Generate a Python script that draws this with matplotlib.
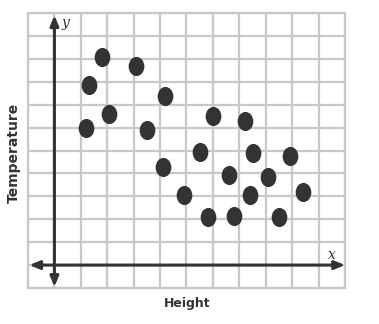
import matplotlib
matplotlib.use("Agg")
import matplotlib.pyplot as plt
from matplotlib.path import Path
from matplotlib.markers import MarkerStyle
from matplotlib.transforms import Affine2D

# scatter points (grid units)
height = [1.8, 1.3, 3.1, 4.2, 1.2, 2.05, 3.5, 6.0, 7.2, 4.1, 5.5, 7.5, 8.9,
          4.9, 6.6, 8.1, 7.4, 9.4, 5.8, 6.8, 8.5]
temperature = [9.1, 7.85, 8.7, 7.4, 6.0, 6.6, 5.9, 6.5, 6.3, 4.3, 4.95, 4.9, 4.75,
               3.05, 3.95, 3.85, 3.05, 3.2, 2.1, 2.15, 2.1]

grid_ticks = list(range(-1, 12))

fig = plt.figure(figsize=(3.79, 3.24), dpi=100)
ax = fig.add_axes([28 / 379, 36 / 324, 317 / 379, 275 / 324])

ax.set_xlim(-1, 11)
ax.set_ylim(-1, 11)
ax.set_xticks(grid_ticks)
ax.set_yticks(grid_ticks)
ax.tick_params(length=0, labelbottom=False, labelleft=False)
ax.grid(True, color="#c8c8c8", linewidth=1.6)
for s in ax.spines.values():
    s.set_color("#c8c8c8")
    s.set_linewidth(1.6)

# axes with arrows on both ends
arrow = dict(arrowstyle="<|-|>,head_length=0.6,head_width=0.25", color="#333333",
             lw=2.2, shrinkA=0, shrinkB=0)
ax.annotate("", xy=(-0.95, 0), xytext=(11, 0), arrowprops=arrow)
ax.annotate("", xy=(0, -0.95), xytext=(0, 10.9), arrowprops=arrow)

ax.text(0.25, 10.55, "y", fontsize=10, family="DejaVu Serif", style="italic",
        color="#333333", va="center")
ax.text(10.5, 0.45, "x", fontsize=10, family="DejaVu Serif", style="italic",
        color="#333333", va="center", ha="center")

# slightly tall ellipse markers
oval = Path.unit_circle().transformed(Affine2D().scale(0.82, 1.0))
ax.scatter(height, temperature, marker=MarkerStyle(oval), s=190, color="#333333",
           zorder=3, linewidths=0)

fig.text(14 / 379, 1 - 153 / 324, "Temperature", rotation=90, fontsize=10,
         fontweight="bold", color="#333333", ha="center", va="center")
fig.text(187 / 379, 1 - 304 / 324, "Height", fontsize=9, fontweight="bold",
         color="#333333", ha="center", va="center")

fig.savefig("out.png", dpi=100)
